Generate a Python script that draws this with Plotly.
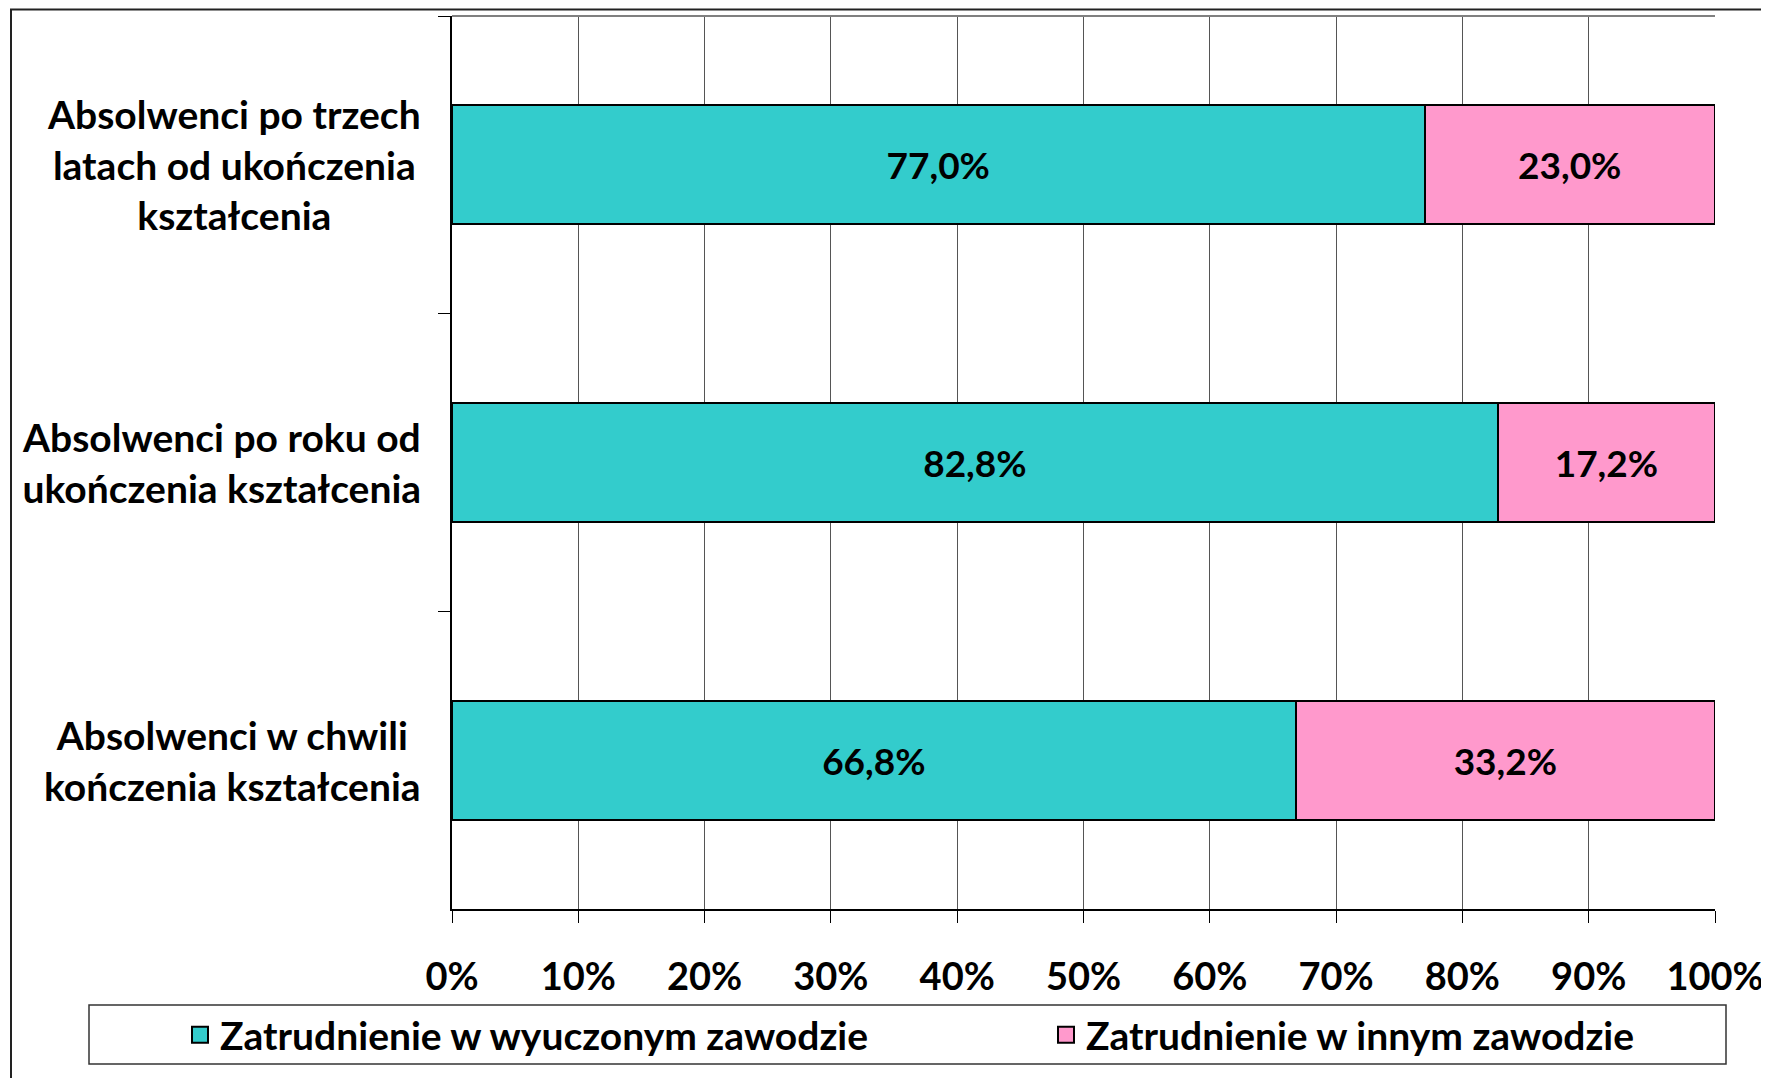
import plotly.graph_objects as go

categories = [
    "Absolwenci po trzech<br>latach od ukończenia<br>kształcenia",
    "Absolwenci po roku od<br>ukończenia kształcenia",
    "Absolwenci w chwili<br>kończenia kształcenia",
]
series_names = ["Zatrudnienie w wyuczonym zawodzie", "Zatrudnienie w innym zawodzie"]
vals_wyuczony = [77.0, 82.8, 66.8]
vals_inny = [23.0, 17.2, 33.2]
x_ticks = [0, 10, 20, 30, 40, 50, 60, 70, 80, 90, 100]
colors = ["#33CCCC", "#FF99CC"]

# page has an 8px body margin: figure coordinates = screen coordinates - 8
OFF = 8
W, H = 1769 - OFF, 1078 - OFF
ML, MT = 452 - OFF, 16 - OFF
MR = W - (1715 - OFF)
MB = H - (909 - OFF)
PW, PH = W - ML - MR, H - MT - MB


def xp(sx):
    return (sx - OFF - ML) / PW


def yp(sy):
    return (H - MB - (sy - OFF)) / PH


FONT = "Lato"
FS_CAT = 39
FS_TICK = 38
FS_DATA = 37
FS_LEG = 39

fig = go.Figure()
for i, (name, vals, col) in enumerate(zip(series_names, [vals_wyuczony, vals_inny], colors)):
    leg = "legend" if i == 0 else "legend2"
    fig.add_trace(go.Bar(
        name=name, y=categories, x=vals, orientation="h",
        marker=dict(color=col, line=dict(color="black", width=2)),
        texttemplate="%{x:.1f}%", textposition="inside", insidetextanchor="middle",
        textangle=0, constraintext="none",
        textfont=dict(family=FONT, size=FS_DATA, color="black", weight="bold"),
        hoverinfo="skip", showlegend=False, legendgroup=name,
    ))
    # legend entry with a larger square swatch, same series
    fig.add_trace(go.Scatter(
        name=name, x=[None], y=[None], mode="markers",
        marker=dict(symbol="square", size=22, color=col, line=dict(color="black", width=2)),
        showlegend=True, legend=leg, legendgroup=name, hoverinfo="skip",
    ))

annotations = []
for c in categories:
    annotations.append(dict(
        x=xp(423), xref="paper", y=c, yref="y", xanchor="right", yanchor="middle",
        text=c, showarrow=False, align="center",
        font=dict(family=FONT, size=FS_CAT, color="black", weight="bold"),
    ))

shapes = [
    # outer chart frame (top + left)
    dict(type="path", xref="paper", yref="paper",
         path=f"M {xp(11)},{yp(1100)} L {xp(11)},{yp(9.5)} L {xp(1790)},{yp(9.5)}",
         line=dict(color="#222", width=2)),
    # plot area top border
    dict(type="line", xref="paper", yref="paper", x0=0, x1=1, y0=1, y1=1,
         line=dict(color="#808080", width=2)),
    # legend box
    dict(type="rect", xref="paper", yref="paper",
         x0=xp(89), x1=xp(1726), y0=yp(1064), y1=yp(1005),
         line=dict(color="#333", width=1.5), fillcolor="white", layer="below"),
]

leg_common = dict(
    orientation="h", xref="paper", yref="paper",
    xanchor="left", yanchor="middle",
    bgcolor="rgba(0,0,0,0)", borderwidth=0, itemsizing="trace",
    font=dict(family=FONT, size=FS_LEG, color="black", weight="bold"),
)

fig.update_layout(
    width=W, height=H,
    margin=dict(l=ML, r=MR, t=MT, b=MB, pad=0, autoexpand=False),
    paper_bgcolor="white", plot_bgcolor="white",
    barmode="stack", bargap=0.6,
    separators=", ",
    font=dict(family=FONT, size=FS_CAT, color="black", weight="bold"),
    showlegend=True,
    legend=dict(x=xp(180), y=yp(1035), **leg_common),
    legend2=dict(x=xp(1046), y=yp(1035), **leg_common),
    xaxis=dict(
        range=[0, 100], tickmode="array", tickvals=x_ticks,
        ticktext=[f"{v}%" for v in x_ticks],
        ticks="outside", ticklen=12, tickcolor="black", tickwidth=1,
        showgrid=True, gridcolor="#555", gridwidth=1,
        showline=True, linecolor="black", linewidth=2,
        zeroline=False, ticklabelstandoff=21,
        tickfont=dict(family=FONT, size=FS_TICK, color="black", weight="bold"),
    ),
    yaxis=dict(
        type="category", categoryorder="array", categoryarray=categories,
        autorange="reversed", tickson="boundaries",
        ticks="outside", ticklen=12, tickcolor="black", tickwidth=1,
        showticklabels=False, showgrid=False,
        showline=True, linecolor="black", linewidth=2, zeroline=False,
    ),
    annotations=annotations,
    shapes=shapes,
)

fig.write_html("out.html")
